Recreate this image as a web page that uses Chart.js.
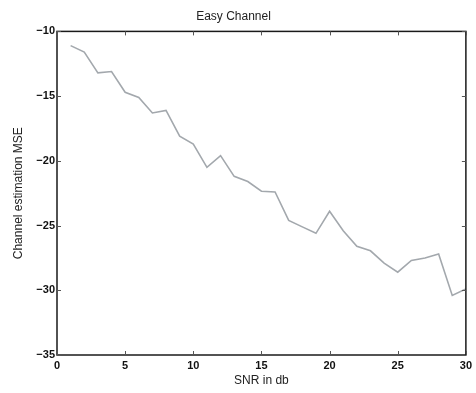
<!DOCTYPE html>
<html>
<head>
<meta charset="utf-8">
<script src="https://cdn.jsdelivr.net/npm/chart.js@4.4.0/dist/chart.umd.min.js"></script>
<style>
html,body{margin:0;padding:0;background:#fff;}
#wrap{width:476px;height:393px;position:relative;}
</style>
</head>
<body>
<div id="wrap"><canvas id="c" width="476" height="393"></canvas></div>
<script>
const snr = [1,2,3,4,5,6,7,8,9,10,11,12,13,14,15,16,17,18,19,20,21,22,23,24,25,26,27,28,29,30];
const mse = [-11.1,-11.6,-13.2,-13.1,-14.7,-15.1,-16.3,-16.1,-18.1,-18.7,-20.5,-19.6,-21.2,-21.6,-22.35,-22.4,-24.6,-25.1,-25.6,-23.9,-25.4,-26.6,-26.95,-27.9,-28.6,-27.7,-27.5,-27.2,-30.4,-29.9];
const xTicks = [0,5,10,15,20,25,30];
const yTicks = [-35,-30,-25,-20,-15,-10];
const titleText = 'Easy Channel';
const xTitle = 'SNR in db';
const yTitle = 'Channel estimation MSE';

const FONT = "'Liberation Sans', Arial, Helvetica, sans-serif";

const framePlugin = {
  id: 'frame',
  afterDatasetsDraw(chart) {
    const {ctx, chartArea: a, scales: {x, y}} = chart;
    ctx.save();
    ctx.strokeStyle = '#1a1a1a';
    ctx.lineWidth = 1.5;
    ctx.strokeRect(a.left, a.top, a.right - a.left, a.bottom - a.top);
    ctx.lineWidth = 1;
    ctx.strokeStyle = '#555';
    const L = 4;
    ctx.beginPath();
    xTicks.forEach(v => {
      const px = Math.round(x.getPixelForValue(v)) + 0.5;
      ctx.moveTo(px, a.bottom); ctx.lineTo(px, a.bottom - L);
      ctx.moveTo(px, a.top); ctx.lineTo(px, a.top + L);
    });
    yTicks.forEach(v => {
      const py = Math.round(y.getPixelForValue(v)) + 0.5;
      ctx.moveTo(a.left, py); ctx.lineTo(a.left + L, py);
      ctx.moveTo(a.right, py); ctx.lineTo(a.right - L, py);
    });
    ctx.stroke();
    ctx.restore();
  }
};

new Chart(document.getElementById('c'), {
  type: 'line',
  data: {
    datasets: [{
      data: snr.map((s, i) => ({x: s, y: mse[i]})),
      borderColor: '#a3a8ad',
      borderWidth: 1.6,
      pointRadius: 0,
      tension: 0,
      fill: false
    }]
  },
  options: {
    responsive: false,
    animation: false,
    devicePixelRatio: 1,
    layout: {padding: {left: 0, right: 9, top: 0, bottom: 0}},
    plugins: {
      legend: {display: false},
      tooltip: {enabled: false},
      title: {
        display: true,
        text: titleText,
        color: '#222',
        font: {family: FONT, size: 12, weight: 'normal', lineHeight: 1.2},
        padding: {top: 9, bottom: 8}
      }
    },
    scales: {
      x: {
        type: 'linear',
        min: 0, max: 30,
        afterBuildTicks: s => { s.ticks = xTicks.map(v => ({value: v})); },
        afterFit: s => { s.height = 38; },
        grid: {display: false, drawTicks: false},
        border: {display: false},
        ticks: {color: '#111', font: {family: FONT, size: 11, weight: 'bold'}, padding: 4, maxRotation: 0},
        title: {display: true, text: xTitle, color: '#222', font: {family: FONT, size: 12}, padding: {top: 0, bottom: 5}}
      },
      y: {
        type: 'linear',
        min: -35, max: -10,
        afterBuildTicks: s => { s.ticks = yTicks.map(v => ({value: v})); },
        afterFit: s => { s.width = 57; },
        grid: {display: false, drawTicks: false},
        border: {display: false},
        ticks: {color: '#111', font: {family: FONT, size: 11, weight: 'bold'}, padding: 2,
          callback: v => String(v).replace('-', '\u2212')},
        title: {display: true, text: yTitle, color: '#222', font: {family: FONT, size: 12}, padding: {top: 11, bottom: 0}}
      }
    }
  },
  plugins: [framePlugin]
});
</script>
</body>
</html>
